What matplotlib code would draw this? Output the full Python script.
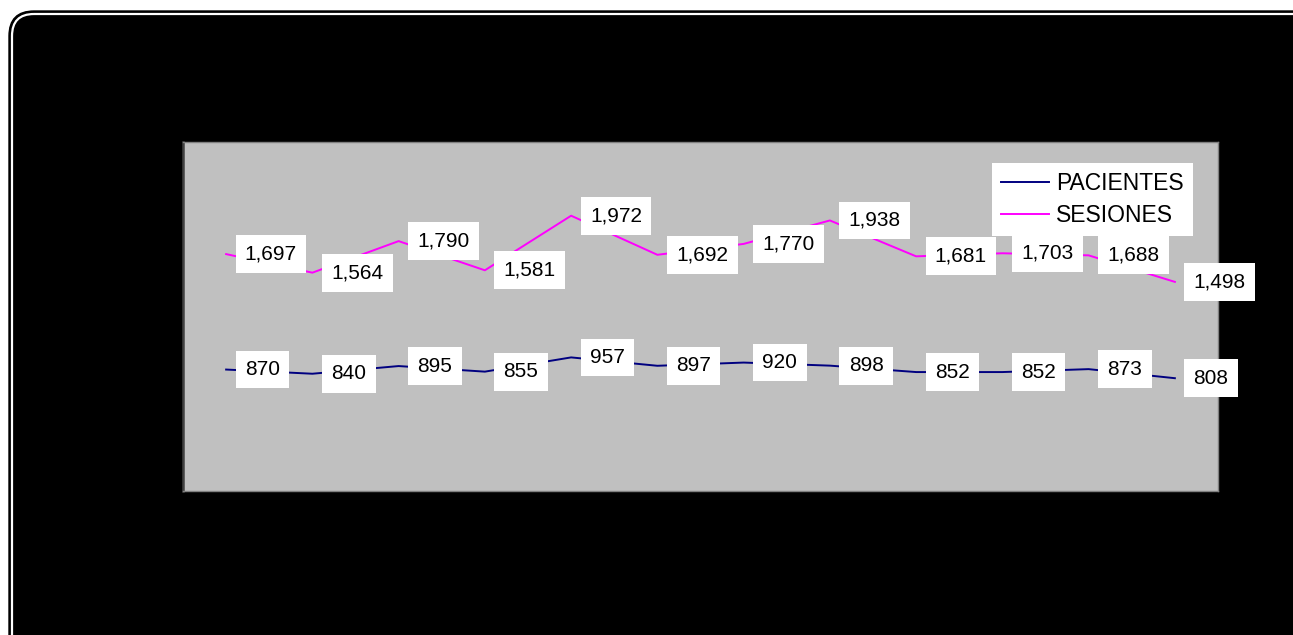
import matplotlib
matplotlib.use('Agg')
from matplotlib import pyplot as plt
from matplotlib.patches import FancyBboxPatch

plt.rcParams['font.family'] = ['Liberation Sans', 'DejaVu Sans']

# data
months = list(range(12))
pacientes = [870, 840, 895, 855, 957, 897, 920, 898, 852, 852, 873, 808]
sesiones = [1697, 1564, 1790, 1581, 1972, 1692, 1770, 1938, 1681, 1703, 1688, 1498]
series_names = ['PACIENTES', 'SESIONES']

W, H = 1293, 635
fig = plt.figure(figsize=(W / 100, H / 100), dpi=100)
fig.patch.set_facecolor('white')

# black rounded frame with thin white inner line
bg = fig.add_axes([0, 0, 1, 1])
bg.set_xlim(0, W)
bg.set_ylim(H, 0)
bg.axis('off')
bg.add_patch(FancyBboxPatch((9 + 25, 11 + 25), 1310 - 50, 660 - 50,
                            boxstyle='round,pad=25', fc='black', ec='black', lw=1))
bg.add_patch(FancyBboxPatch((12 + 22, 14 + 22), 1310 - 50, 660 - 50,
                            boxstyle='round,pad=22', fc='none', ec='white', lw=1.6))

ax = fig.add_axes([183 / W, 1 - 491 / H, 1035 / W, 349 / H])
ax.set_facecolor('#C0C0C0')
ax.set_xlim(-0.5, 11.5)
ax.set_ylim(0, 2500)
ax.set_xticks([])
ax.set_yticks([])
for side in ['top', 'right', 'bottom']:
    ax.spines[side].set_color('#808080')
    ax.spines[side].set_linewidth(1)
ax.spines['left'].set_color('#404040')
ax.spines['left'].set_linewidth(1.8)

ax.plot(months, pacientes, color='#000080', lw=1.4, label=series_names[0], zorder=2)
ax.plot(months, sesiones, color='#FF00FF', lw=1.4, label=series_names[1], zorder=2)

box = dict(boxstyle='square,pad=0.45', fc='white', ec='none')
for vals in (pacientes, sesiones):
    for x, v in zip(months, vals):
        ax.annotate(f'{v:,}', (x, v), xytext=(13.5, 0), textcoords='offset points',
                    ha='left', va='center', fontsize=15, bbox=box, zorder=3)

leg = ax.legend(loc='upper right', bbox_to_anchor=(0.976, 0.94), borderaxespad=0,
                fontsize=16.5, frameon=True, fancybox=False, handlelength=2.1,
                handletextpad=0.3, labelspacing=0.38, borderpad=0.4)
leg.get_frame().set_facecolor('white')
leg.get_frame().set_edgecolor('none')
leg.get_frame().set_alpha(1)

fig.savefig('out.png', dpi=100)
